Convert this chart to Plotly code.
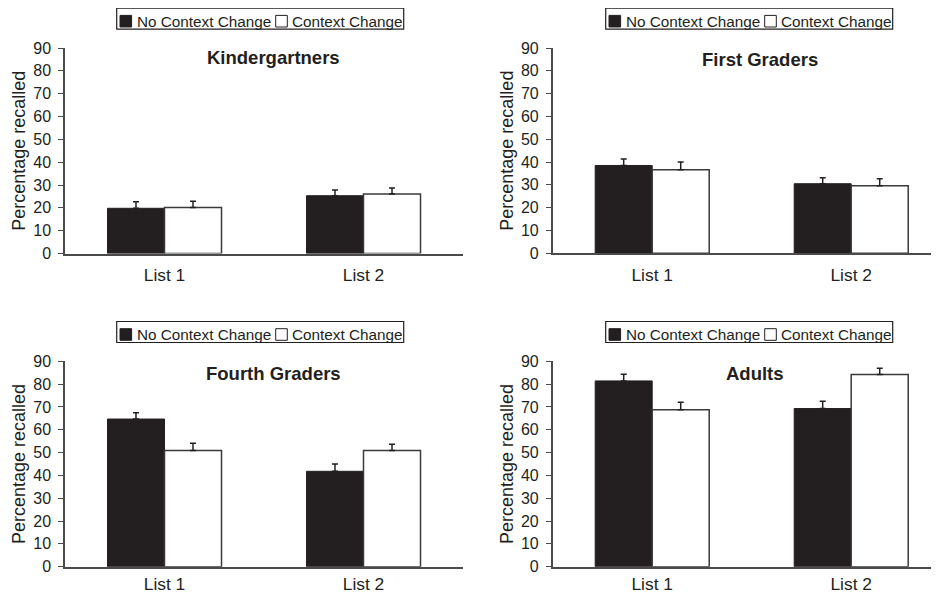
import plotly.graph_objects as go

categories = ["List 1", "List 2"]
panels = ["Kindergartners", "First Graders", "Fourth Graders", "Adults"]
series_names = ["No Context Change", "Context Change"]

no_change = {
    "Kindergartners": [19.8, 25.3],
    "First Graders": [38.5, 30.5],
    "Fourth Graders": [64.7, 41.8],
    "Adults": [81.4, 69.3],
}
no_change_err = {
    "Kindergartners": [2.9, 2.5],
    "First Graders": [2.8, 2.6],
    "Fourth Graders": [2.8, 3.2],
    "Adults": [2.9, 3.2],
}
change = {
    "Kindergartners": [20.2, 26.1],
    "First Graders": [36.6, 29.6],
    "Fourth Graders": [50.9, 50.9],
    "Adults": [68.8, 84.2],
}
change_err = {
    "Kindergartners": [2.7, 2.6],
    "First Graders": [3.4, 3.1],
    "Fourth Graders": [3.2, 2.8],
    "Adults": [3.3, 2.8],
}
y_ticks = [0, 10, 20, 30, 40, 50, 60, 70, 80, 90]

# the page body has an 8px margin; size the figure to the visible window
OFF = 8
WF, HF = 939 - OFF, 598 - OFF
INK = "#231f20"
AXC = "#4a4a4a"
FONT = "Liberation Sans, Arial, sans-serif"


def px(x):
    return (x - OFF) / WF


def py(y):
    return 1 - (y - OFF) / HF


# panel geometry in window pixels
geom = [
    # x_left, x_right, y_bottom, y_top, title_x, title_y, legend_left, legend_cy, xlabel_standoff
    (65.0, 463.0, 253.5, 48.0, 273, 57, 116.7, 18.7, 5),
    (552.7, 939.0, 253.3, 48.0, 760, 60, 605.7, 18.7, 5),
    (65.0, 463.0, 566.7, 361.3, 273, 373, 116.7, 332.0, 1),
    (552.7, 939.0, 566.7, 361.3, 755, 373, 605.7, 332.0, 1),
]
cat_px = 199.0
LEG_W, LEG_H = 287, 21
SQ = 11.6

fig = go.Figure()
annotations = []
shapes = []
for i, name in enumerate(panels):
    xl, xr, yb, yt, tx, ty, ll, lcy, xstand = geom[i]
    ax = "" if i == 0 else str(i + 1)
    fig.add_trace(go.Bar(
        x=categories, y=no_change[name], name=series_names[0],
        marker=dict(color=INK, line=dict(color=INK, width=1)),
        error_y=dict(type="data", array=no_change_err[name], symmetric=False,
                     arrayminus=[0, 0], color=INK, thickness=1.5, width=3),
        xaxis="x" + ax, yaxis="y" + ax, showlegend=False,
    ))
    fig.add_trace(go.Bar(
        x=categories, y=change[name], name=series_names[1],
        marker=dict(color="white", line=dict(color="#3a3a3a", width=1.5)),
        error_y=dict(type="data", array=change_err[name], symmetric=False,
                     arrayminus=[0, 0], color=INK, thickness=1.5, width=3),
        xaxis="x" + ax, yaxis="y" + ax, showlegend=False,
    ))
    span_units = (xr - xl) / cat_px
    fig.update_layout(**{
        "xaxis" + ax: dict(
            domain=[px(xl), min(1.0, px(xr))], anchor="y" + ax,
            range=[-0.5, -0.5 + span_units], automargin=False,
            showline=True, linecolor=AXC, linewidth=1.5,
            ticks="", ticklabelstandoff=xstand,
            tickfont=dict(size=17.4, color=INK, family=FONT),
            showgrid=False, zeroline=False, fixedrange=True,
        ),
        "yaxis" + ax: dict(
            domain=[py(yb), py(yt)], anchor="x" + ax,
            range=[0, 90], tickvals=y_ticks, automargin=False,
            showline=True, linecolor=AXC, linewidth=1.5,
            ticks="outside", ticklen=5, tickcolor=AXC, tickwidth=1.2,
            ticklabelstandoff=4,
            tickfont=dict(size=16, color=INK, family=FONT),
            title=dict(text="Percentage recalled", standoff=3,
                       font=dict(size=18, color=INK, family=FONT)),
            showgrid=False, zeroline=False, fixedrange=True,
        ),
    })
    annotations.append(dict(
        text="<b>" + name + "</b>", x=px(tx), y=py(ty), xref="paper", yref="paper",
        xanchor="center", yanchor="middle", showarrow=False,
        font=dict(size=18.5, color=INK, family=FONT),
    ))
    # legend frame
    shapes.append(dict(
        type="rect", xref="paper", yref="paper",
        x0=px(ll), x1=px(ll + LEG_W),
        y0=py(lcy + LEG_H / 2), y1=py(lcy - LEG_H / 2),
        line=dict(color=INK, width=1.2), fillcolor="white", layer="above",
    ))
    # legend swatches
    sq_bottom = lcy + 8.3
    for k, (dx, fill) in enumerate([(3.3, INK), (159.0, "white")]):
        shapes.append(dict(
            type="rect", xref="paper", yref="paper",
            x0=px(ll + dx), x1=px(ll + dx + SQ),
            y0=py(sq_bottom), y1=py(sq_bottom - SQ),
            line=dict(color=INK, width=1), fillcolor=fill, layer="above",
        ))
    # legend labels
    for dx, label in [(18.3, series_names[0]), (173.3, series_names[1])]:
        annotations.append(dict(
            text=label, x=px(ll + dx), y=py(lcy + 2.5), xref="paper", yref="paper",
            xanchor="left", yanchor="middle", showarrow=False,
            font=dict(size=15.3, color=INK, family=FONT),
        ))

fig.update_layout(
    width=WF, height=HF, margin=dict(l=0, r=0, t=0, b=0, pad=0, autoexpand=False),
    paper_bgcolor="white", plot_bgcolor="white",
    barmode="group", bargap=0.427, bargroupgap=0,
    annotations=annotations, shapes=shapes,
    font=dict(family=FONT, color=INK),
)

fig.write_html("out.html")
